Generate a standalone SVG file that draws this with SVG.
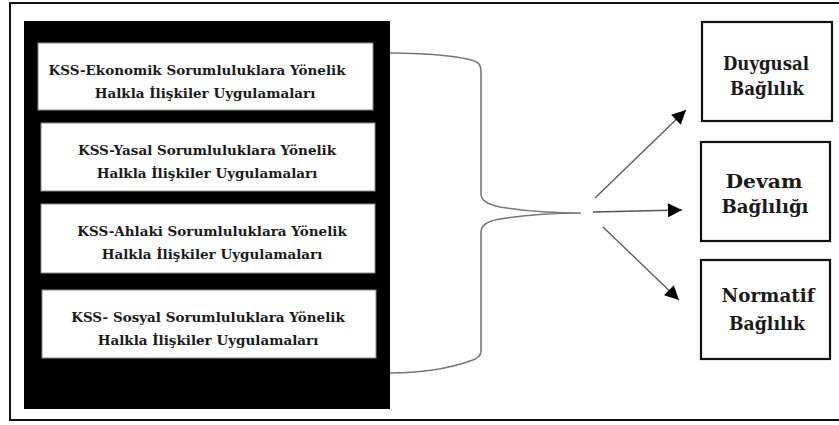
<svg xmlns="http://www.w3.org/2000/svg" width="839" height="425" viewBox="0 0 839 425">
<defs>
<style>
.frame{fill:none;stroke:#111;stroke-width:2}
.inbox{fill:#fff;stroke:#888;stroke-width:1}
.outbox{fill:#fff;stroke:#111;stroke-width:2.2}
.t{font-family:"DejaVu Serif","Liberation Serif",serif;font-weight:bold;fill:#1a1a1a;text-anchor:middle}
.s{font-size:13.5px}
.b{font-size:19px}
.brace{fill:none;stroke:#777;stroke-width:1.6}
.arr{fill:none;stroke:#555;stroke-width:1.3}
</style>
<marker id="ah" viewBox="0 0 10 10" refX="10" refY="5" markerWidth="16" markerHeight="14" markerUnits="userSpaceOnUse" orient="auto">
<path d="M0,0 L10,5 L0,10 Z" fill="#000"/>
</marker>
</defs>
<rect width="839" height="425" fill="#fff"/>
<rect class="frame" x="10" y="3" width="840" height="417"/>
<g id="panel">
<rect x="24" y="21" width="366" height="388" fill="#000"/>
</g>
<g id="n1">
<rect class="inbox" x="38" y="43" width="335" height="67"/>
<text class="t s" x="197" y="75">KSS-Ekonomik Sorumluluklara Yönelik</text>
<text class="t s" x="205" y="98">Halkla İlişkiler Uygulamaları</text>
</g>
<g id="n2">
<rect class="inbox" x="41" y="123" width="334" height="68"/>
<text class="t s" x="207" y="155">KSS-Yasal Sorumluluklara Yönelik</text>
<text class="t s" x="207" y="178">Halkla İlişkiler Uygulamaları</text>
</g>
<g id="n3">
<rect class="inbox" x="41" y="204" width="334" height="69"/>
<text class="t s" x="212" y="236">KSS-Ahlaki Sorumluluklara Yönelik</text>
<text class="t s" x="212" y="259">Halkla İlişkiler Uygulamaları</text>
</g>
<g id="n4">
<rect class="inbox" x="42" y="290" width="334" height="68"/>
<text class="t s" x="208" y="322">KSS- Sosyal Sorumluluklara Yönelik</text>
<text class="t s" x="208" y="345">Halkla İlişkiler Uygulamaları</text>
</g>
<g id="d1">
<rect class="outbox" x="702" y="22" width="130" height="99"/>
<text class="t b" x="766" y="70" textLength="86" lengthAdjust="spacingAndGlyphs">Duygusal</text>
<text class="t b" x="767" y="95" textLength="74" lengthAdjust="spacingAndGlyphs">Bağlılık</text>
</g>
<g id="d2">
<rect class="outbox" x="701" y="142" width="129" height="99"/>
<text class="t b" x="764" y="188" textLength="77" lengthAdjust="spacingAndGlyphs">Devam</text>
<text class="t b" x="765" y="213" textLength="87" lengthAdjust="spacingAndGlyphs">Bağlılığı</text>
</g>
<g id="d3">
<rect class="outbox" x="701" y="260" width="129" height="99"/>
<text class="t b" x="768" y="302" textLength="93" lengthAdjust="spacingAndGlyphs">Normatif</text>
<text class="t b" x="767" y="330" textLength="76" lengthAdjust="spacingAndGlyphs">Bağlılık</text>
</g>
<g id="connectors">
<path class="brace" d="M390,53 C430,53 470,57 478,63 Q481,66 481,72 L481,194 Q481,203 500,207 C530,212 560,213 581,213 C560,213 530,214 500,219 Q481,222 481,232 L481,351 Q481,358 470,361 C450,368 420,373 390,373"/>
<line class="arr" x1="595" y1="198" x2="686" y2="110" marker-end="url(#ah)"/>
<line class="arr" x1="593" y1="212" x2="682" y2="210" marker-end="url(#ah)"/>
<line class="arr" x1="603" y1="227" x2="679" y2="300" marker-end="url(#ah)"/>
</g>
</svg>
